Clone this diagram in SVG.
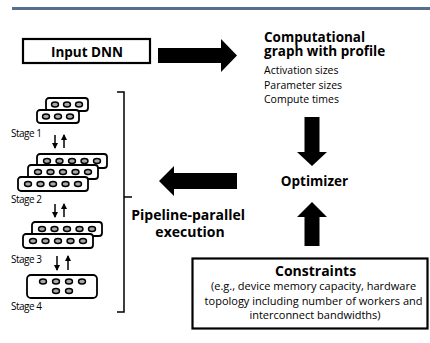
<svg xmlns="http://www.w3.org/2000/svg" width="430" height="343" viewBox="0 0 430 343">
  <defs>
    <style>
      .bold { font-family: "Open Sans", "Noto Sans", sans-serif; font-weight: bold; fill: #000; }
      .reg { font-family: "Open Sans", "Noto Sans", sans-serif; fill: #000; }
      .box { fill: #fff; stroke: #000; stroke-width: 2.2; }
      .dev { fill: #fff; stroke: #000; stroke-width: 1.8; }
      .unit { fill: #a8a8a8; stroke: #000; stroke-width: 1.4; }
      .thin { stroke: #000; stroke-width: 1.5; fill: none; }
      .big { fill: #000; }
      .stage { font-size: 10px; letter-spacing: -0.5px; }
    </style>
    <marker id="tip" viewBox="0 0 6 6" refX="5" refY="3" markerWidth="4" markerHeight="4" orient="auto">
      <path d="M0,0 L6,3 L0,6 Z" fill="#000"/>
    </marker>
    <!-- five-unit device card -->
    <g id="card5">
      <rect class="dev" x="0" y="0" width="70" height="14" rx="3"/>
      <ellipse class="unit" cx="10" cy="7" rx="3.5" ry="2.5"/>
      <ellipse class="unit" cx="22.5" cy="7" rx="3.5" ry="2.5"/>
      <ellipse class="unit" cx="35" cy="7" rx="3.5" ry="2.5"/>
      <ellipse class="unit" cx="47.5" cy="7" rx="3.5" ry="2.5"/>
      <ellipse class="unit" cx="60" cy="7" rx="3.5" ry="2.5"/>
    </g>
    <!-- three-unit device card -->
    <g id="card3">
      <rect class="dev" x="0" y="0" width="42" height="13" rx="3"/>
      <ellipse class="unit" cx="9" cy="6.5" rx="3.5" ry="2.5"/>
      <ellipse class="unit" cx="21" cy="6.5" rx="3.5" ry="2.5"/>
      <ellipse class="unit" cx="33" cy="6.5" rx="3.5" ry="2.5"/>
    </g>
  </defs>

  <!-- header rule -->
  <rect x="12" y="7" width="418" height="3" fill="#566f91"/>

  <g id="input-dnn">
    <rect class="box" x="23" y="39" width="127" height="24"/>
    <text class="bold" x="87" y="57" font-size="13.5" text-anchor="middle">Input DNN</text>
  </g>

  <g id="profile">
    <text class="bold" font-size="13.5">
      <tspan x="264" y="41.5">Computational</tspan>
      <tspan x="264" y="55.5">graph with profile</tspan>
    </text>
    <text class="reg" font-size="10.5">
      <tspan x="264" y="74">Activation sizes</tspan>
      <tspan x="264" y="88.5">Parameter sizes</tspan>
      <tspan x="264" y="103">Compute times</tspan>
    </text>
  </g>

  <g id="optimizer">
    <text class="bold" x="314.5" y="186" font-size="13.5" text-anchor="middle">Optimizer</text>
  </g>

  <g id="constraints">
    <rect class="box" x="192.5" y="258.5" width="235" height="70" stroke-width="3"/>
    <text class="reg" font-size="11" text-anchor="middle">
      <tspan class="bold" x="317" y="276" font-size="14">Constraints</tspan>
      <tspan x="315" y="290">(e.g., device memory capacity, hardware</tspan>
      <tspan x="315" y="304.5">topology including number of workers and</tspan>
      <tspan x="315" y="319">interconnect bandwidths)</tspan>
    </text>
  </g>

  <g id="pipeline-label">
    <text class="bold" font-size="14" text-anchor="middle">
      <tspan x="190" y="220">Pipeline-parallel</tspan>
      <tspan x="190" y="237">execution</tspan>
    </text>
  </g>

  <g id="stage1">
    <use href="#card3" x="46" y="98"/>
    <use href="#card3" x="37" y="110"/>
    <text class="reg stage" x="11" y="137">Stage 1</text>
  </g>

  <g id="stage2">
    <use href="#card5" x="37" y="154"/>
    <use href="#card5" x="28" y="165"/>
    <use href="#card5" x="18" y="177"/>
    <text class="reg stage" x="11" y="203">Stage 2</text>
  </g>

  <g id="stage3">
    <use href="#card5" x="32" y="222"/>
    <use href="#card5" x="23" y="234"/>
    <text class="reg stage" x="11" y="263">Stage 3</text>
  </g>

  <g id="stage4">
    <rect class="dev" x="27" y="275" width="70" height="23" rx="4"/>
    <ellipse class="unit" cx="43" cy="281.5" rx="3.5" ry="2.5"/>
    <ellipse class="unit" cx="56" cy="281.5" rx="3.5" ry="2.5"/>
    <ellipse class="unit" cx="69" cy="281.5" rx="3.5" ry="2.5"/>
    <ellipse class="unit" cx="82" cy="281.5" rx="3.5" ry="2.5"/>
    <ellipse class="unit" cx="56" cy="291" rx="3.5" ry="2.5"/>
    <ellipse class="unit" cx="69" cy="291" rx="3.5" ry="2.5"/>
    <text class="reg stage" x="11" y="310">Stage 4</text>
  </g>

  <g id="connectors">
    <!-- block arrows -->
    <path class="big" d="M158,48 L221,48 L221,39 L237,55.5 L221,72 L221,63 L158,63 Z"/>
    <path class="big" d="M304.5,117 L319.5,117 L319.5,152 L327,152 L312,166 L297,152 L304.5,152 Z"/>
    <path class="big" d="M312,202 L327,217 L319.5,217 L319.5,246 L304.5,246 L304.5,217 L297,217 Z"/>
    <path class="big" d="M237,173 L174,173 L174,166 L159,181 L174,196 L174,189 L237,189 Z"/>
    <!-- bracket spanning the stages -->
    <path class="thin" d="M117,92 L124,92 L124,312 L117,312 M124,197 L132,197" stroke-width="2"/>
    <!-- inter-stage transfers -->
    <line class="thin" x1="55" y1="135" x2="55" y2="148" marker-end="url(#tip)"/>
    <line class="thin" x1="64" y1="148" x2="64" y2="135" marker-end="url(#tip)"/>
    <line class="thin" x1="55" y1="204" x2="55" y2="217" marker-end="url(#tip)"/>
    <line class="thin" x1="64" y1="217" x2="64" y2="204" marker-end="url(#tip)"/>
    <line class="thin" x1="57" y1="256" x2="57" y2="270" marker-end="url(#tip)"/>
    <line class="thin" x1="68" y1="270" x2="68" y2="256" marker-end="url(#tip)"/>
  </g>
</svg>
